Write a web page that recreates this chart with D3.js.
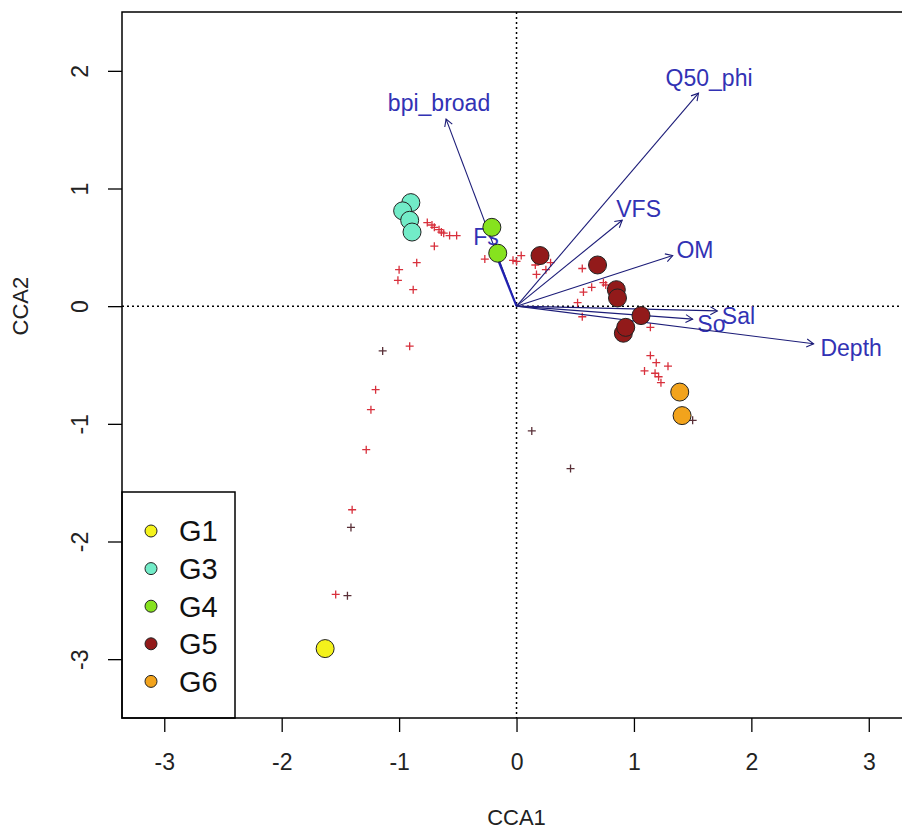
<!DOCTYPE html>
<html>
<head>
<meta charset="UTF-8">
<style>
body, html {
    margin: 0;
    padding: 0;
    background-color: #ffffff;
    overflow: hidden;
}
svg text {
    font-family: "Liberation Sans", Arial, sans-serif;
}
</style>
</head>
<body>
<svg id="chart" width="902" height="832"></svg>
<script src="https://d3js.org/d3.v7.min.js"></script>
<script>
// tick labels
let xTicks = [-3, -2, -1, 0, 1, 2, 3];
let yTicks = [-3, -2, -1, 0, 1, 2];

// groups shown in the legend
let groupNames = ["G1", "G3", "G4", "G5", "G6"];
let groupColors = ["#f4f21c", "#72ecc8", "#86e21e", "#921a1a", "#f2a31c"];

// big circles (group of each, CCA1, CCA2)
let circleGroup = ["G1", "G3", "G3", "G3", "G3", "G4", "G4", "G5", "G5", "G5", "G5", "G5", "G5", "G5", "G6", "G6"];
let circleX = [-1.63, -0.90, -0.97, -0.91, -0.89, -0.21, -0.16, 0.20, 0.69, 0.85, 0.86, 1.06, 0.91, 0.93, 1.39, 1.41];
let circleY = [-2.91, 0.88, 0.81, 0.73, 0.63, 0.67, 0.45, 0.43, 0.35, 0.14, 0.07, -0.08, -0.23, -0.18, -0.73, -0.93];

// site scores (red crosses)
let siteX = [-0.76, -0.72, -0.70, -0.66, -0.64, -0.62, -0.57, -0.51, -0.70, -1.00, -0.85, -1.01, -0.88,
    -0.91, -1.20, -1.24, -1.28, -1.40, -1.54, -0.27, -0.03, 0.00, 0.04, 0.16, 0.17, 0.25, 0.29,
    0.56, 0.64, 0.57, 0.52, 0.56, 0.74, 0.76, 1.14, 1.14, 1.19, 1.29, 1.09, 1.18, 1.21, 1.23];
let siteY = [0.71, 0.69, 0.67, 0.65, 0.63, 0.62, 0.60, 0.60, 0.51, 0.31, 0.37, 0.22, 0.14,
    -0.34, -0.71, -0.88, -1.22, -1.73, -2.45, 0.40, 0.39, 0.38, 0.43, 0.35, 0.27, 0.31, 0.37,
    0.32, 0.16, 0.12, 0.03, -0.09, 0.20, 0.18, -0.18, -0.42, -0.48, -0.51, -0.55, -0.57, -0.60, -0.65];

// site scores that look darker
let darkX = [-1.14, -1.41, -1.44, 0.13, 0.46, 1.50];
let darkY = [-0.38, -1.88, -2.46, -1.06, -1.38, -0.97];

// environmental vectors
let varNames = ["bpi_broad", "Fs", "Q50_phi", "VFS", "OM", "Sal", "So", "Depth"];
let varX = [-0.60, -0.20, 1.55, 0.90, 1.33, 1.71, 1.50, 2.53];
let varY = [1.59, 0.50, 1.81, 0.73, 0.43, -0.04, -0.11, -0.32];
let labelX = [-0.66, -0.26, 1.64, 1.04, 1.52, 1.89, 1.66, 2.85];
let labelY = [1.73, 0.59, 1.94, 0.83, 0.48, -0.08, -0.15, -0.35];

let svg = d3.select("#chart");

let plotLeft = 122, plotRight = 904, plotTop = 12, plotBottom = 718;

let x = d3.scaleLinear().domain([-3.36, 3.3]).range([plotLeft, plotRight]);
let y = d3.scaleLinear().domain([-3.5, 2.5]).range([plotBottom, plotTop]);

let colorOf = d3.scaleOrdinal().domain(groupNames).range(groupColors);

// dotted zero lines
svg.append("line")
    .attr("x1", plotLeft).attr("x2", plotRight)
    .attr("y1", y(0)).attr("y2", y(0))
    .attr("stroke", "#000").attr("stroke-width", 1.5)
    .attr("stroke-dasharray", "2,3");
svg.append("line")
    .attr("x1", x(0)).attr("x2", x(0))
    .attr("y1", plotTop).attr("y2", plotBottom)
    .attr("stroke", "#000").attr("stroke-width", 1.5)
    .attr("stroke-dasharray", "2,3");

// crosses
let crossPath = "M-4,0H4M0,-4V4";
svg.append("g").selectAll("path")
    .data(d3.range(siteX.length))
    .enter()
    .append("path")
    .attr("d", crossPath)
    .attr("transform", i => `translate(${x(siteX[i])},${y(siteY[i])})`)
    .attr("stroke", "#d8303c")
    .attr("stroke-width", 1.3)
    .attr("fill", "none");

svg.append("g").selectAll("path")
    .data(d3.range(darkX.length))
    .enter()
    .append("path")
    .attr("d", crossPath)
    .attr("transform", i => `translate(${x(darkX[i])},${y(darkY[i])})`)
    .attr("stroke", "#5a3038")
    .attr("stroke-width", 1.3)
    .attr("fill", "none");

// arrows
let arrows = svg.append("g");
varNames.forEach((name, i) => {
    let x0 = x(0), y0 = y(0);
    let x1 = x(varX[i]), y1 = y(varY[i]);
    let ang = Math.atan2(y1 - y0, x1 - x0);
    let len = 8, spread = Math.PI / 6;
    let w = name == "Fs" ? 2.2 : 1.1;
    arrows.append("line")
        .attr("x1", x0).attr("y1", y0)
        .attr("x2", x1).attr("y2", y1)
        .attr("stroke", name == "Fs" ? "#2020b0" : "#1c1c78")
        .attr("stroke-width", w);
    arrows.append("path")
        .attr("d", "M" + (x1 - len * Math.cos(ang - spread)) + "," + (y1 - len * Math.sin(ang - spread)) +
            "L" + x1 + "," + y1 +
            "L" + (x1 - len * Math.cos(ang + spread)) + "," + (y1 - len * Math.sin(ang + spread)))
        .attr("fill", "none")
        .attr("stroke", "#1c1c78")
        .attr("stroke-width", 1.1);
    arrows.append("text")
        .attr("x", x(labelX[i]))
        .attr("y", y(labelY[i]))
        .attr("dy", "0.36em")
        .attr("text-anchor", "middle")
        .attr("font-size", "23px")
        .attr("fill", "#3232b4")
        .text(name);
});

// group circles
svg.append("g").selectAll("circle")
    .data(d3.range(circleX.length))
    .enter()
    .append("circle")
    .attr("cx", i => x(circleX[i]))
    .attr("cy", i => y(circleY[i]))
    .attr("r", 9)
    .attr("fill", i => colorOf(circleGroup[i]))
    .attr("stroke", "#222")
    .attr("stroke-width", 1);

// legend
let legend = svg.append("g");
legend.append("rect")
    .attr("x", plotLeft).attr("y", 492)
    .attr("width", 113).attr("height", plotBottom - 492)
    .attr("fill", "#fff")
    .attr("stroke", "#000")
    .attr("stroke-width", 1.5);
let legendItem = legend.selectAll(".legend-item")
    .data(groupNames)
    .enter()
    .append("g")
    .attr("class", "legend-item")
    .attr("transform", (d, i) => `translate(${plotLeft + 29}, ${531 + i * 37.6})`);
legendItem.append("circle")
    .attr("r", 6)
    .attr("fill", d => colorOf(d))
    .attr("stroke", "#222");
legendItem.append("text")
    .attr("x", 28)
    .attr("dy", "0.36em")
    .attr("font-size", "29px")
    .attr("fill", "#111")
    .text(d => d);

// axes (R style hyphen minus)
let fmt = d => String(d);
let xAxis = svg.append("g")
    .attr("transform", `translate(0,${plotBottom})`)
    .call(d3.axisBottom(x).tickValues(xTicks).tickSize(14).tickPadding(22).tickFormat(fmt));
let yAxis = svg.append("g")
    .attr("transform", `translate(${plotLeft},0)`)
    .call(d3.axisLeft(y).tickValues(yTicks).tickSize(14).tickFormat(fmt));

xAxis.select(".domain").remove();
yAxis.select(".domain").remove();
xAxis.selectAll("line").attr("stroke", "#000").attr("stroke-width", 1.3);
yAxis.selectAll("line").attr("stroke", "#000").attr("stroke-width", 1.3);
xAxis.selectAll("text")
    .attr("font-size", "23px")
    .attr("font-family", "Liberation Sans, Arial, sans-serif")
    .attr("fill", "#222");
yAxis.selectAll(".tick text")
    .attr("font-size", "23px")
    .attr("font-family", "Liberation Sans, Arial, sans-serif")
    .attr("fill", "#222")
    .attr("text-anchor", "middle")
    .attr("x", 0).attr("y", 0).attr("dy", "0.36em")
    .attr("transform", `translate(${80 - plotLeft},0) rotate(-90)`);

// plot frame
svg.append("rect")
    .attr("x", plotLeft).attr("y", plotTop)
    .attr("width", plotRight - plotLeft).attr("height", plotBottom - plotTop)
    .attr("fill", "none")
    .attr("stroke", "#000")
    .attr("stroke-width", 1.5);

// axis titles
svg.append("text")
    .attr("x", x(0))
    .attr("y", 817)
    .attr("dy", "0.36em")
    .attr("text-anchor", "middle")
    .attr("font-size", "22px")
    .attr("fill", "#222")
    .text("CCA1");
svg.append("text")
    .attr("transform", `translate(20,${y(0)}) rotate(-90)`)
    .attr("dy", "0.36em")
    .attr("text-anchor", "middle")
    .attr("font-size", "22px")
    .attr("fill", "#222")
    .text("CCA2");
</script>
</body>
</html>
